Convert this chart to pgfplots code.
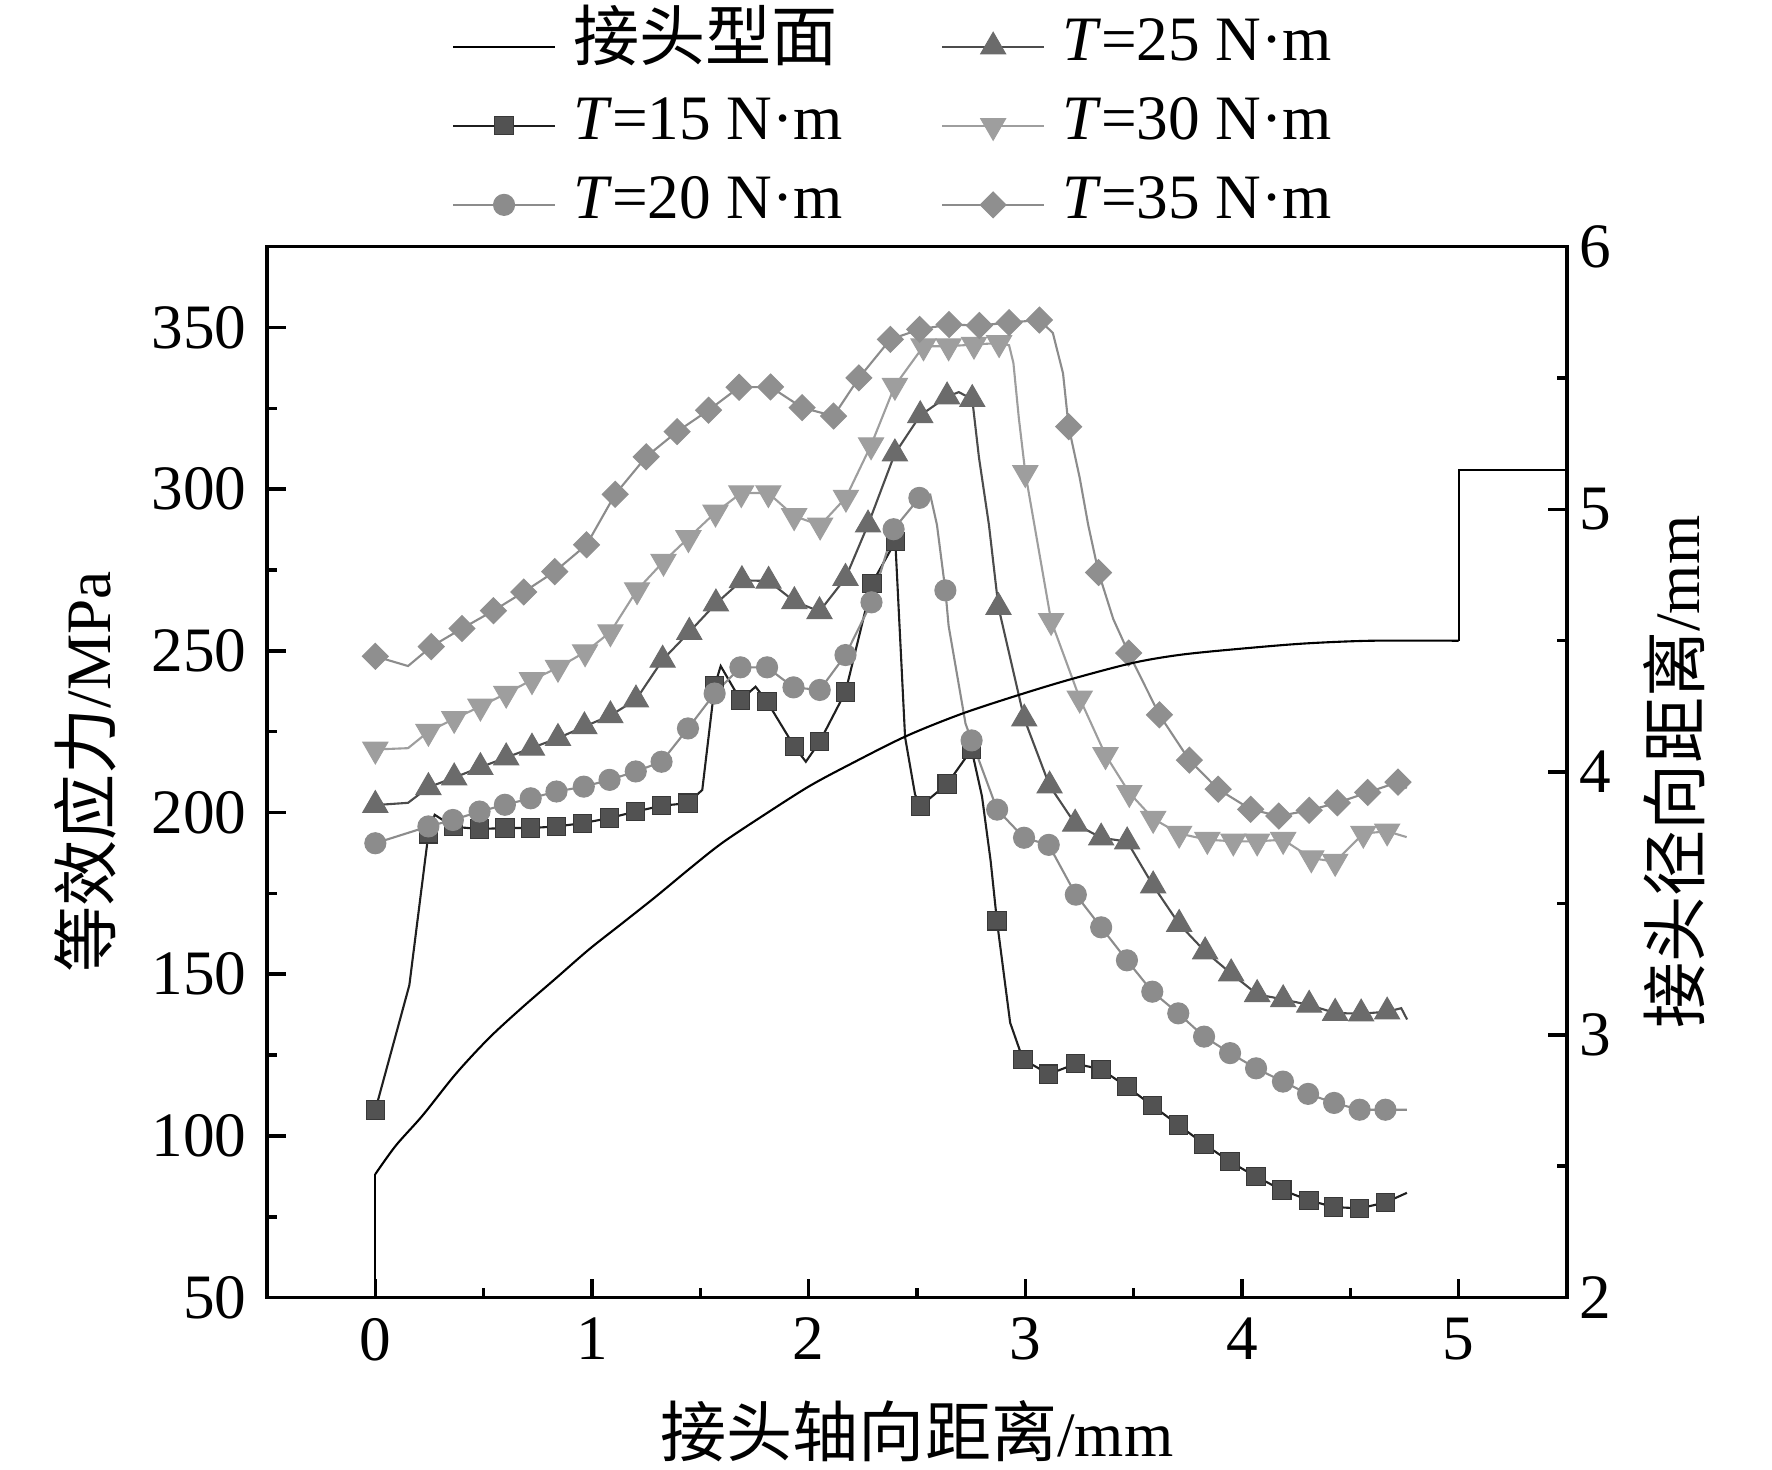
\documentclass[border=0pt]{standalone}
\usepackage{fontspec}
\setmainfont{Liberation Serif}
\newfontfamily\cjk[Scale=1.045]{Noto Sans CJK SC}
\usepackage{pgfplots}
\usepackage{pgfplotstable}
\pgfplotsset{compat=1.18}
\newcommand\fs{\fontsize{18}{21.6}\selectfont}

\definecolor{c15l}{gray}{0.12}
\definecolor{c15m}{gray}{0.32}
\definecolor{c15e}{gray}{0.22}
\definecolor{c20l}{gray}{0.55}
\definecolor{c20m}{gray}{0.55}
\definecolor{c25l}{gray}{0.30}
\definecolor{c25m}{gray}{0.42}
\definecolor{c30l}{gray}{0.62}
\definecolor{c30m}{gray}{0.62}
\definecolor{c35l}{gray}{0.55}
\definecolor{c35m}{gray}{0.56}

\pgfplotstableread{
x y m
0 108 108
0.157 146.6 nan
0.245 193.4 193.4
0.274 199.3 nan
0.36 195.6 195.6
0.481 194.9 194.9
0.598 195.2 195.2
0.717 195.2 195.2
0.836 195.7 195.7
0.957 196.7 196.7
1.081 198.3 198.3
1.202 200.3 200.3
1.321 202.1 202.1
1.443 202.9 202.9
1.509 207 nan
1.566 239.1 239.1
1.594 245.3 nan
1.685 234.8 234.8
1.755 238.9 nan
1.808 234.3 234.3
1.934 220.4 220.4
1.987 215.7 nan
2.051 221.9 221.9
2.17 237.3 237.3
2.292 270.8 270.8
2.40 283.8 283.8
2.445 223.3 nan
2.491 205.6 nan
2.516 202 202
2.639 208.8 208.8
2.752 219.5 219.5
2.80 205 nan
2.84 185 nan
2.869 166.5 166.5
2.93 135 nan
2.989 123.7 123.7
3.108 119.1 119.1
3.233 122.3 122.3
3.35 120.6 120.6
3.469 115.2 115.2
3.586 109.4 109.4
3.706 103.4 103.4
3.825 97.5 97.5
3.945 92 92
4.065 87.4 87.4
4.184 83.3 83.3
4.309 80.1 80.1
4.423 78 78
4.543 77.6 77.6
4.662 79.4 79.4
4.761 82.4 nan
}\tA

\pgfplotstableread{
x y m
0 190.5 190.5
0.245 195.7 195.7
0.358 197.7 197.7
0.481 200.3 200.3
0.598 202.4 202.4
0.717 204.4 204.4
0.836 206.5 206.5
0.962 208 208
1.081 210.1 210.1
1.202 212.7 212.7
1.321 215.7 215.7
1.443 226 226
1.566 236.8 236.8
1.685 244.9 244.9
1.808 244.9 244.9
1.93 238.7 238.7
2.051 237.9 237.9
2.17 248.7 248.7
2.29 265 265
2.392 287.6 287.6
2.511 297.3 297.3
2.561 298.3 nan
2.592 289 nan
2.631 268.7 268.7
2.646 257.7 nan
2.724 227.5 nan
2.752 222.3 222.3
2.87 200.9 200.9
2.994 192.2 192.2
3.108 190 190
3.233 174.6 174.6
3.35 164.5 164.5
3.469 154.3 154.3
3.586 144.6 144.6
3.706 137.9 137.9
3.825 130.7 130.7
3.945 125.6 125.6
4.065 120.9 120.9
4.189 116.8 116.8
4.305 113 113
4.425 110.2 110.2
4.543 108.1 108.1
4.662 108.1 108.1
4.761 108.1 nan
}\tB

\pgfplotstableread{
x y m
0 202.3 202.3
0.151 203 nan
0.245 207.8 207.8
0.364 210.8 210.8
0.485 214 214
0.604 217 217
0.723 220 220
0.843 223 223
0.965 226.6 226.6
1.085 230 230
1.203 234.9 234.9
1.326 247.2 247.2
1.449 255.8 255.8
1.572 264.6 264.6
1.692 271.8 271.8
1.815 271.6 271.6
1.934 265.3 265.3
2.05 262.2 262.2
2.17 272.5 272.5
2.274 289 289
2.398 311 311
2.515 322.8 322.8
2.639 328.6 328.6
2.693 330 nan
2.755 327.8 327.8
2.786 309.8 nan
2.832 289 nan
2.876 263.5 263.5
2.995 229 229
3.112 208.3 208.3
3.23 196.5 196.5
3.35 192.2 192.2
3.47 191 191
3.59 177.4 177.4
3.71 165.5 165.5
3.83 157 157
3.95 150.2 150.2
4.07 143.8 143.8
4.19 142.2 142.2
4.31 140.5 140.5
4.43 138 138
4.55 137.8 137.8
4.67 138.4 138.4
4.735 139.5 nan
4.762 136 nan
}\tC

\pgfplotstableread{
x y m
0 219.5 219.5
0.151 219.9 nan
0.245 225 225
0.364 229 229
0.485 232.8 232.8
0.604 236.8 236.8
0.723 241 241
0.843 244.8 244.8
0.968 249.6 249.6
1.085 255.8 255.8
1.208 268.8 268.8
1.33 277.6 277.6
1.445 284.9 284.9
1.57 292.8 292.8
1.689 298.8 298.8
1.814 298.8 298.8
1.933 291.7 291.7
2.053 288.8 288.8
2.172 297.4 297.4
2.288 313.6 313.6
2.398 332 332
2.53 344.2 344.2
2.646 344.2 344.2
2.763 344.7 344.7
2.879 345.2 345.2
2.925 344.5 nan
2.945 339 nan
2.97 322 nan
3.0 305 305
3.119 259.3 259.3
3.251 235.3 235.3
3.37 217.8 217.8
3.48 206.1 206.1
3.59 198.1 198.1
3.71 193.5 193.5
3.84 191.6 191.6
3.96 191.1 191.1
4.07 191.1 191.1
4.19 191.6 191.6
4.32 185.9 185.9
4.43 184.8 184.8
4.56 193.5 193.5
4.67 194.2 194.2
4.76 192.4 nan
}\tD

\pgfplotstableread{
x y m
0 248.3 248.3
0.151 245.3 nan
0.258 251.3 251.3
0.40 256.9 256.9
0.545 262.4 262.4
0.685 268.2 268.2
0.828 274.5 274.5
0.975 282.8 282.8
1.107 298.4 298.4
1.25 310 310
1.393 317.8 317.8
1.538 324.4 324.4
1.679 331.5 331.5
1.824 331.6 331.6
1.97 325.2 325.2
2.115 322.6 322.6
2.232 334.4 334.4
2.377 346.3 346.3
2.512 349.4 349.4
2.648 350.9 350.9
2.788 350.6 350.6
2.925 351.5 351.5
3.065 352.3 352.3
3.127 348.3 nan
3.174 335.8 nan
3.2 319.3 319.3
3.251 303.5 nan
3.29 289 nan
3.338 274.2 274.2
3.406 259.8 nan
3.477 249.3 249.3
3.619 230.2 230.2
3.757 216.2 216.2
3.89 207.2 207.2
4.04 201 201
4.17 198.9 198.9
4.31 200.7 200.7
4.44 203 203
4.58 206.2 206.2
4.72 209.4 209.4
4.76 207.5 nan
}\tE

\pgfplotstableread{
x y
0 2.47
0.095 2.579
0.218 2.693
0.372 2.852
0.525 2.988
0.679 3.105
0.833 3.215
0.986 3.325
1.14 3.425
1.293 3.525
1.447 3.63
1.60 3.73
1.80 3.84
2.0 3.945
2.18 4.025
2.445 4.135
2.70 4.22
2.956 4.29
3.204 4.352
3.499 4.416
3.73 4.448
4.04 4.473
4.3 4.49
4.6 4.50
5.0 4.50
}\tP

\pgfplotstableread{
x y
0 2.0
0 2.47
}\tPa

\pgfplotstableread{
x y
5.0 4.50
5.0 5.15
5.5 5.15
}\tPb

\pgfplotsset{
  /pgf/number format/assume math mode=true,
  every tick label/.append style={font=\fs},
  label style={font=\fs},
  s15l/.style={draw=c15l, line width=0.6pt},
  s15m/.style={mark=square*, mark size=2.6pt, mark options={solid, fill=c15m, draw=c15e, line width=0.3pt}},
  s20l/.style={draw=c20l, line width=0.6pt},
  s20m/.style={mark=*, mark size=3.0pt, mark options={solid, fill=c20m, draw=c20m, line width=0.3pt}},
  s25l/.style={draw=c25l, line width=0.6pt},
  s25m/.style={mark=triangle*, mark size=4.1pt, mark options={solid, fill=c25m, draw=c25m, line width=0.3pt}},
  s30l/.style={draw=c30l, line width=0.6pt},
  s30m/.style={mark=triangle*, mark size=4.1pt, mark options={solid, rotate=180, fill=c30m, draw=c30m, line width=0.3pt}},
  s35l/.style={draw=c35l, line width=0.6pt},
  s35m/.style={mark=square*, mark size=2.6pt, mark options={solid, rotate=45, fill=c35m, draw=c35m, line width=0.3pt}},
  common/.style={
    at={(0,0)}, anchor=south west,
    width=13cm, height=10.51cm, scale only axis,
    xmin=-0.5, xmax=5.5,
    axis line style={line width=1pt},
    tick align=inside,
    major tick length=0.19cm, minor tick length=0.1cm,
    tick style={line width=1pt, black},
  },
}

\begin{document}
\begin{tikzpicture}
\begin{axis}[common,
  ymin=50, ymax=375,
  xtick={0,1,2,3,4,5}, minor xtick={0.5,1.5,2.5,3.5,4.5},
  ytick={50,100,...,350}, minor ytick={75,125,...,325},
  xtick pos=bottom, ytick pos=left,
  xticklabel style={yshift=-0.08cm},
  yticklabel style={xshift=-0.08cm},
  xlabel={{\cjk 接头轴向距离}/mm},
  ylabel={{\cjk 等效应力}/MPa},
  xlabel style={at={([yshift=-1.335cm]axis description cs:0.5,0)}, anchor=center},
  ylabel style={at={([xshift=-1.82cm]axis description cs:0,0.5)}, anchor=center},
  legend columns=2,
  legend cell align=left,
  legend style={at={([xshift=1.85cm,yshift=2.28cm]axis description cs:0,1)}, anchor=north west,
    draw=none, fill=none, inner sep=0pt, outer sep=0pt, column sep=0.17cm, row sep=6.5pt,
    font=\fs, nodes={inner sep=0pt, text height=12pt, text depth=4pt}},
  legend image code/.code={\draw[mark repeat=2,mark phase=2,#1] plot coordinates {(0cm,0cm) (0.51cm,0cm) (1.02cm,0cm)};},
]
\addlegendimage{black, line width=0.6pt}
\addlegendentry{\makebox[3.51cm][l]{\cjk 接头型面}}
\addlegendimage{s25l, s25m}
\addlegendentry{\textit{T}=25 N·m}
\addlegendimage{s15l, s15m}
\addlegendentry{\makebox[3.51cm][l]{\textit{T}=15 N·m}}
\addlegendimage{s30l, s30m}
\addlegendentry{\textit{T}=30 N·m}
\addlegendimage{s20l, s20m}
\addlegendentry{\makebox[3.51cm][l]{\textit{T}=20 N·m}}
\addlegendimage{s35l, s35m}
\addlegendentry{\textit{T}=35 N·m}

\addplot[s15l, no marks, forget plot] table[x=x,y=y]{\tA};
\addplot[s15m, only marks, forget plot] table[x=x,y=m]{\tA};
\addplot[s20l, no marks, forget plot] table[x=x,y=y]{\tB};
\addplot[s20m, only marks, forget plot] table[x=x,y=m]{\tB};
\addplot[s25l, no marks, forget plot] table[x=x,y=y]{\tC};
\addplot[s25m, only marks, forget plot] table[x=x,y=m]{\tC};
\addplot[s30l, no marks, forget plot] table[x=x,y=y]{\tD};
\addplot[s30m, only marks, forget plot] table[x=x,y=m]{\tD};
\addplot[s35l, no marks, forget plot] table[x=x,y=y]{\tE};
\addplot[s35m, only marks, forget plot] table[x=x,y=m]{\tE};
\end{axis}

\begin{axis}[common,
  ymin=2, ymax=6,
  axis x line=none, axis y line*=right,
  ytick={2,3,4,5,6}, minor ytick={2.5,3.5,4.5,5.5},
  ylabel={{\cjk 接头径向距离}/mm},
  ylabel style={at={([xshift=1.07cm]axis description cs:1,0.5)}, anchor=center},
]
\addplot[black, line width=0.6pt, smooth, no marks] table[x=x,y=y]{\tP};
\addplot[black, line width=0.6pt, no marks] table[x=x,y=y]{\tPa};
\addplot[black, line width=0.6pt, no marks] table[x=x,y=y]{\tPb};
\end{axis}
\pgfresetboundingbox
\path[use as bounding box] (-2.67,-1.715) rectangle (15.05,12.976);
\end{tikzpicture}
\end{document}
